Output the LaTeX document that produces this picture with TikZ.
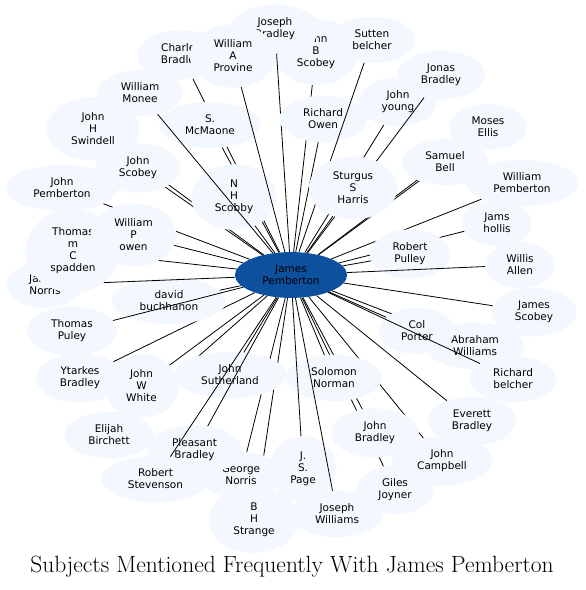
\documentclass[tikz,border=0pt]{standalone}
\usepackage{fontspec}
\setsansfont{DejaVu Sans}
\usetikzlibrary{shapes.geometric}
\definecolor{hubblue}{RGB}{12,80,158}
\definecolor{leafblue}{RGB}{243,248,255}

\begin{document}
\begin{tikzpicture}[
  x=1pt,y=-1pt,
  every node/.style={font=\sffamily\fontsize{10.5}{12}\selectfont,align=center},
  person/.style={ellipse,fill=leafblue,inner xsep=11pt,inner ysep=6.3pt},
  hub/.style={ellipse,fill=hubblue,inner xsep=11pt,inner ysep=6.3pt},
  ln/.style={line width=0.8pt}
]
\useasboundingbox (0,0) rectangle (586,590);
\node[hub] (JP) at (291,275) {James\\Pemberton};
% upper part
\node[person] (JBS) at (316,52) {John\\B\\Scobey};
\draw[ln] (JP) -- (JBS);
\node[person] (JoBr) at (275,29) {Joseph\\Bradley};
\draw[ln] (JP) -- (JoBr);
\node[person] (CB) at (181,55) {Charles\\Bradley};
\draw[ln] (JP) -- (CB);
\node[person] (SM) at (210,125) {S.\\McMaone};
\draw[ln] (JP) -- (SM);
\node[person] (JHS) at (93,129) {John\\H\\Swindell};
\draw[ln] (JP) -- (JHS);
\node[person] (JS) at (138,168) {John\\Scobey};
\draw[ln] (JP) -- (JS);
\node[person] (NHS) at (234,197) {N\\H\\Scobby};
\draw[ln] (JP) -- (NHS);
\node[person] (WM) at (140,93) {William\\Monee};
\draw[ln] (JP) -- (WM);
\node[person] (WAP) at (233,56) {William\\A\\Provine};
\draw[ln] (JP) -- (WAP);
\node[person] (RO) at (323,119) {Richard\\Owen};
\draw[ln] (JP) -- (RO);
\node[person] (SuB) at (372,40) {Sutten\\belcher};
\draw[ln] (JP) -- (SuB);
\node[person] (JY) at (398,102) {John\\young};
\draw[ln] (JP) -- (JY);
\node[person] (JoB) at (441,75) {Jonas\\Bradley};
\draw[ln] (JP) -- (JoB);
\node[person] (ME) at (488,127) {Moses\\Ellis};
\draw[ln] (JP) -- (ME);
\node[person] (SB) at (445,162) {Samuel\\Bell};
\draw[ln] (JP) -- (SB);
\node[person] (SSH) at (353,188) {Sturgus\\S\\Harris};
\draw[ln] (JP) -- (SSH);
% right part
\node[person] (WPe) at (522,183) {William\\Pemberton};
\draw[ln] (JP) -- (WPe);
\node[person] (JH) at (497,223) {Jams\\hollis};
\draw[ln] (JP) -- (JH);
\node[person] (RP) at (410,254) {Robert\\Pulley};
\draw[ln] (JP) -- (RP);
\node[person] (WA) at (520,265) {Willis\\Allen};
\draw[ln] (JP) -- (WA);
\node[person] (JaS) at (534,312) {James\\Scobey};
\draw[ln] (JP) -- (JaS);
\node[person] (AW) at (475,346) {Abraham\\Williams};
\draw[ln] (JP) -- (AW);
\node[person] (CP) at (417,331) {Col\\Porter};
\draw[ln] (JP) -- (CP);
\node[person] (RB) at (513,379) {Richard\\belcher};
\draw[ln] (JP) -- (RB);
\node[person] (EvB) at (472,421) {Everett\\Bradley};
\draw[ln] (JP) -- (EvB);
\node[person] (JC) at (442,461) {John\\Campbell};
\draw[ln] (JP) -- (JC);
\node[person] (GJ) at (395,490) {Giles\\Joyner};
\draw[ln] (JP) -- (GJ);
\node[person] (JB) at (375,433) {John\\Bradley};
\draw[ln] (JP) -- (JB);
\node[person] (SN) at (334,378) {Solomon\\Norman};
\draw[ln] (JP) -- (SN);
% lower part
\node[person] (JSP) at (303,469) {J.\\S.\\Page};
\draw[ln] (JP) -- (JSP);
\node[person] (JW) at (337,514) {Joseph\\Williams};
\draw[ln] (JP) -- (JW);
\node[person] (BHS) at (254,520) {B\\H\\Strange};
\draw[ln] (JP) -- (BHS);
\node[person] (EB) at (109,435) {Elijah\\Birchett};
\draw[ln] (JP) -- (EB);
\node[person] (GN) at (241,475) {George\\Norris};
\draw[ln] (JP) -- (GN);
\node[person] (JSu) at (230,375) {John\\Sutherland};
\draw[ln] (JP) -- (JSu);
\node[person] (PB) at (194.5,450) {Pleasant\\Bradley};
\draw[ln] (JP) -- (PB);
\node[person] (RS) at (155.5,479) {Robert\\Stevenson};
\draw[ln] (JP) -- (RS);
\node[person] (JWW) at (141.5,386) {John\\W\\White};
\draw[ln] (JP) -- (JWW);
\node[person] (YB) at (80,378) {Ytarkes\\Bradley};
\draw[ln] (JP) -- (YB);
% left part
\node[person] (DB) at (169,301) {david\\buchhanon};
\draw[ln] (JP) -- (DB);
\node[person] (TP) at (72,331) {Thomas\\Puley};
\draw[ln] (JP) -- (TP);
\node[person] (JN) at (45,285) {James\\Norris};
\draw[ln] (JP) -- (JN);
\node[person] (TCS) at (73,251) {Thomas\\m\\C\\spadden};
\draw[ln] (JP) -- (TCS);
\node[person] (JPe) at (62,188) {John\\Pemberton};
\draw[ln] (JP) -- (JPe);
\node[person] (WPO) at (133.5,235) {William\\P\\owen};
\draw[ln] (JP) -- (WPO);
\node[font=\rmfamily\fontsize{23.5}{28}\selectfont] (title) at (292,567)
  {Subjects Mentioned Frequently With James Pemberton};
\end{tikzpicture}
\end{document}
